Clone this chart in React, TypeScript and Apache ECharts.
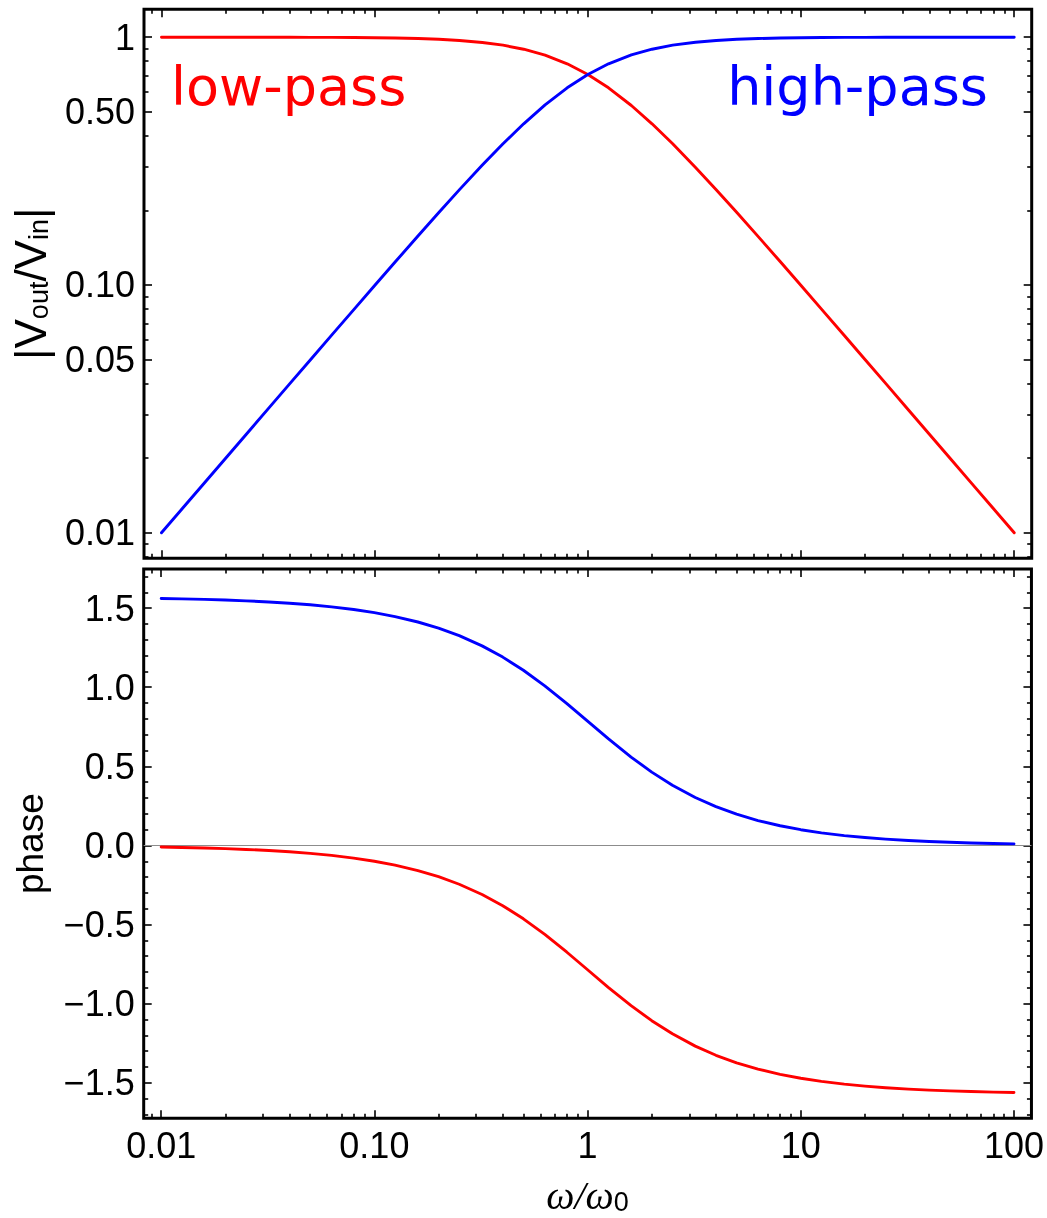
import React, { useEffect, useRef } from 'react';
import * as echarts from 'echarts';

// ---- data ----
const omega = [
  0.01, 0.0125, 0.016, 0.02, 0.025, 0.032, 0.04, 0.05, 0.063, 0.08,
  0.1, 0.125, 0.16, 0.2, 0.25, 0.32, 0.4, 0.5, 0.63, 0.8,
  1, 1.25, 1.6, 2, 2.5, 3.2, 4, 5, 6.3, 8,
  10, 12.5, 16, 20, 25, 32, 40, 50, 63, 80, 100,
];
const lowPassGain = [
  0.99995, 0.99992, 0.99987, 0.9998, 0.99969, 0.99949, 0.9992, 0.99875, 0.99802, 0.99682,
  0.99504, 0.99228, 0.98744, 0.98058, 0.97014, 0.95243, 0.92848, 0.89443, 0.8461, 0.78087,
  0.70711, 0.6247, 0.53, 0.44721, 0.37139, 0.29827, 0.24254, 0.19612, 0.15677, 0.12403,
  0.0995, 0.07975, 0.06238, 0.04994, 0.03997, 0.03123, 0.02499, 0.02, 0.01587, 0.0125, 0.01,
];
const highPassGain = [
  0.01, 0.0125, 0.016, 0.02, 0.02499, 0.03198, 0.03997, 0.04994, 0.06288, 0.07975,
  0.0995, 0.12403, 0.15799, 0.19612, 0.24254, 0.30478, 0.37139, 0.44721, 0.53304, 0.6247,
  0.70711, 0.78087, 0.848, 0.89443, 0.92848, 0.95448, 0.97014, 0.98058, 0.98763, 0.99228,
  0.99504, 0.99682, 0.99805, 0.99875, 0.9992, 0.99951, 0.99969, 0.9998, 0.99987, 0.99992, 0.99995,
];
const lowPassPhase = [
  -0.01, -0.0125, -0.016, -0.02, -0.025, -0.032, -0.04, -0.05, -0.0629, -0.0798,
  -0.0997, -0.1244, -0.1587, -0.1974, -0.245, -0.3097, -0.3805, -0.4636, -0.5622, -0.6747,
  -0.7854, -0.8961, -1.0122, -1.1071, -1.1903, -1.2679, -1.3258, -1.3734, -1.4134, -1.4464,
  -1.4711, -1.491, -1.5084, -1.5208, -1.5308, -1.5396, -1.5458, -1.5508, -1.5549, -1.5583, -1.5608,
];
const highPassPhase = [
  1.5608, 1.5583, 1.5548, 1.5508, 1.5458, 1.5388, 1.5308, 1.5208, 1.5079, 1.491,
  1.4711, 1.4464, 1.4121, 1.3734, 1.3258, 1.2611, 1.1903, 1.1071, 1.0086, 0.8961,
  0.7854, 0.6747, 0.5586, 0.4636, 0.3805, 0.3029, 0.245, 0.1974, 0.1574, 0.1244,
  0.0997, 0.0798, 0.0624, 0.05, 0.04, 0.0312, 0.025, 0.02, 0.0159, 0.0125, 0.01,
];

// ---- ticks ----
const xMajorTicks = [0.01, 0.1, 1, 10, 100];
const xMajorLabels = ['0.01', '0.10', '1', '10', '100'];
const gainMajorTicks = [0.01, 0.05, 0.1, 0.5, 1];
const gainMajorLabels = ['0.01', '0.05', '0.10', '0.50', '1'];
const phaseMajorTicks = [-1.5, -1, -0.5, 0, 0.5, 1, 1.5];
const phaseMajorLabels = ['\u22121.5', '\u22121.0', '\u22120.5', '0.0', '0.5', '1.0', '1.5'];
const minorMultipliers = [2, 3, 4, 5, 6, 7, 8, 9];
const minorDecades = [0.001, 0.01, 0.1, 1, 10];
const phaseMinorStep = 0.1;

// ---- axis ranges (log10 space for log axes) ----
const X_LOG = [-2.082, 2.082];
const G_LOG = [-2.103, 0.113];
const P_RANGE = [-1.724, 1.747];

const FONT = '"Liberation Sans", Arial, sans-serif';

const lg = (v: number) => Math.log10(v);
const near = (a: number, b: number) => Math.abs(a - b) < 1e-6;

function logMinors(range: number[], exclude: number[]) {
  const out: number[] = [];
  minorDecades.forEach((d) => {
    minorMultipliers.forEach((k) => {
      const v = lg(k * d);
      if (v > range[0] && v < range[1] && !exclude.some((e) => near(lg(e), v))) out.push(v);
    });
  });
  return out;
}

function linMinors(range: number[], majors: number[]) {
  const out: number[] = [];
  const n0 = Math.ceil(range[0] / phaseMinorStep);
  const n1 = Math.floor(range[1] / phaseMinorStep);
  for (let i = n0; i <= n1; i++) {
    const v = Math.round(i * phaseMinorStep * 10) / 10;
    if (!majors.some((m) => near(m, v))) out.push(v);
  }
  return out;
}

const tickColor = '#000';

function decoAxis(opts: {
  gridIndex: number;
  position: string;
  range: number[];
  values: number[];
  major: boolean;
  labels?: string[];
  name?: string;
  nameGap?: number;
  nameStyle?: any;
  nameRotate?: number;
}) {
  const { gridIndex, position, range, values, major, labels } = opts;
  const ax: any = {
    type: 'value',
    gridIndex,
    position,
    min: range[0],
    max: range[1],
    axisLine: { show: false, onZero: false },
    splitLine: { show: false },
    axisTick: {
      show: true,
      inside: true,
      length: major ? 8 : 4.5,
      customValues: values,
      lineStyle: { color: tickColor, width: 1.6 },
    },
    axisLabel: labels
      ? {
          show: true,
          customValues: values,
          margin: 9,
          color: '#000',
          fontSize: 36,
          fontFamily: FONT,
          formatter: (v: number) => {
            const i = values.findIndex((t) => near(t, v));
            return i >= 0 ? labels[i] : '';
          },
        }
      : { show: false },
  };
  if (opts.name) {
    ax.name = opts.name;
    ax.nameLocation = 'middle';
    ax.nameGap = opts.nameGap;
    ax.nameRotate = opts.nameRotate;
    ax.nameTextStyle = opts.nameStyle;
  }
  return ax;
}

export default function App() {
  const ref = useRef<HTMLDivElement>(null);

  useEffect(() => {
    if (!ref.current) return;
    const chart = echarts.init(ref.current, undefined, { renderer: 'svg' });

    const xMajLog = xMajorTicks.map(lg);
    const xMin = logMinors(X_LOG, xMajorTicks);
    const gMajLog = gainMajorTicks.map(lg);
    const gMin = logMinors(G_LOG, gainMajorTicks);
    const pMin = linMinors(P_RANGE, phaseMajorTicks);

    const grids = [
      { left: 143.7, right: 15.3, top: 9.2, height: 549.1 },
      { left: 143.7, right: 15.3, top: 569, height: 549.3 },
    ].map((g) => ({ ...g, show: true, borderColor: '#000', borderWidth: 3, backgroundColor: 'transparent' }));

    const xAxes: any[] = [];
    const yAxes: any[] = [];
    [0, 1].forEach((gi) => {
      // data x axis (hidden log scale)
      xAxes.push({ type: 'log', logBase: 10, gridIndex: gi, min: Math.pow(10, X_LOG[0]), max: Math.pow(10, X_LOG[1]), show: false, axisLine: { onZero: false } });
      xAxes.push(
        decoAxis({
          gridIndex: gi,
          position: 'bottom',
          range: X_LOG,
          values: xMajLog,
          major: true,
          labels: gi === 1 ? xMajorLabels : undefined,
          name: gi === 1 ? '{w|\u03c9/\u03c9}{s|0}' : undefined,
          nameGap: 54,
          nameStyle: {
            rich: {
              w: { fontFamily: '"Liberation Serif", serif', fontStyle: 'italic', fontSize: 40, lineHeight: 40, verticalAlign: 'top', color: '#000' },
              s: { fontFamily: FONT, fontSize: 27, lineHeight: 27, verticalAlign: 'bottom', padding: [24, 0, 0, 0], color: '#000' },
            },
          },
        })
      );
      xAxes.push(decoAxis({ gridIndex: gi, position: 'bottom', range: X_LOG, values: xMin, major: false }));
      xAxes.push(decoAxis({ gridIndex: gi, position: 'top', range: X_LOG, values: xMajLog, major: true }));
      xAxes.push(decoAxis({ gridIndex: gi, position: 'top', range: X_LOG, values: xMin, major: false }));

      if (gi === 0) {
        yAxes.push({ type: 'log', logBase: 10, gridIndex: 0, min: Math.pow(10, G_LOG[0]), max: Math.pow(10, G_LOG[1]), show: false, axisLine: { onZero: false } });
        yAxes.push(
          decoAxis({
            gridIndex: 0,
            position: 'left',
            range: G_LOG,
            values: gMajLog,
            major: true,
            labels: gainMajorLabels,
            name: '{m||V}{s|out}{m|/V}{s|in}{m||}',
            nameGap: 92,
            nameRotate: 90,
            nameStyle: {
              rich: {
                m: { fontFamily: FONT, fontSize: 44, lineHeight: 44, color: '#000' },
                s: { fontFamily: FONT, fontSize: 27, lineHeight: 27, verticalAlign: 'bottom', color: '#000' },
              },
            },
          })
        );
        yAxes.push(decoAxis({ gridIndex: 0, position: 'left', range: G_LOG, values: gMin, major: false }));
        yAxes.push(decoAxis({ gridIndex: 0, position: 'right', range: G_LOG, values: gMajLog, major: true }));
        yAxes.push(decoAxis({ gridIndex: 0, position: 'right', range: G_LOG, values: gMin, major: false }));
      } else {
        yAxes.push({ type: 'value', gridIndex: 1, min: P_RANGE[0], max: P_RANGE[1], show: false, axisLine: { onZero: false } });
        yAxes.push(
          decoAxis({
            gridIndex: 1,
            position: 'left',
            range: P_RANGE,
            values: phaseMajorTicks,
            major: true,
            labels: phaseMajorLabels,
            name: 'phase',
            nameGap: 95,
            nameRotate: 90,
            nameStyle: { fontFamily: FONT, fontSize: 37, color: '#000' },
          })
        );
        yAxes.push(decoAxis({ gridIndex: 1, position: 'left', range: P_RANGE, values: pMin, major: false }));
        yAxes.push(decoAxis({ gridIndex: 1, position: 'right', range: P_RANGE, values: phaseMajorTicks, major: true }));
        yAxes.push(decoAxis({ gridIndex: 1, position: 'right', range: P_RANGE, values: pMin, major: false }));
      }
    });

    const RED = '#ff0000';
    const BLUE = '#0000ff';
    const lineSeries = (name: string, color: string, ys: number[], axisIdx: number, extra: any = {}) => ({
      name,
      type: 'line',
      xAxisIndex: axisIdx,
      yAxisIndex: axisIdx,
      data: omega.map((w, i) => [w, ys[i]]),
      showSymbol: false,
      smooth: false,
      lineStyle: { color, width: 2.9, join: 'round', cap: 'round' },
      itemStyle: { color },
      silent: true,
      z: 5,
      ...extra,
    });

    const option: any = {
      animation: false,
      grid: grids,
      xAxis: xAxes,
      yAxis: yAxes,
      series: [
        lineSeries('low-pass gain', RED, lowPassGain, 0),
        lineSeries('high-pass gain', BLUE, highPassGain, 0),
        lineSeries('high-pass phase', BLUE, highPassPhase, 5, {
          markLine: {
            silent: true,
            symbol: 'none',
            label: { show: false },
            lineStyle: { color: '#8c8c8c', width: 1.2, type: 'solid' },
            data: [{ yAxis: 0 }],
            z: 1,
          },
        }),
        lineSeries('low-pass phase', RED, lowPassPhase, 5),
      ],
      graphic: [
        {
          type: 'text',
          x: 171,
          y: 86,
          style: { text: 'low-pass', fill: RED, fontSize: 54, fontFamily: '"DejaVu Sans", sans-serif', align: 'left', verticalAlign: 'middle' },
        },
        {
          type: 'text',
          x: 988,
          y: 86,
          style: { text: 'high-pass', fill: BLUE, fontSize: 54, fontFamily: '"DejaVu Sans", sans-serif', align: 'right', verticalAlign: 'middle' },
        },
      ],
    };

    chart.setOption(option);
    return () => chart.dispose();
  }, []);

  return <div ref={ref} style={{ position: 'fixed', left: 0, top: 0, width: 1047, height: 1218 }} />;
}
